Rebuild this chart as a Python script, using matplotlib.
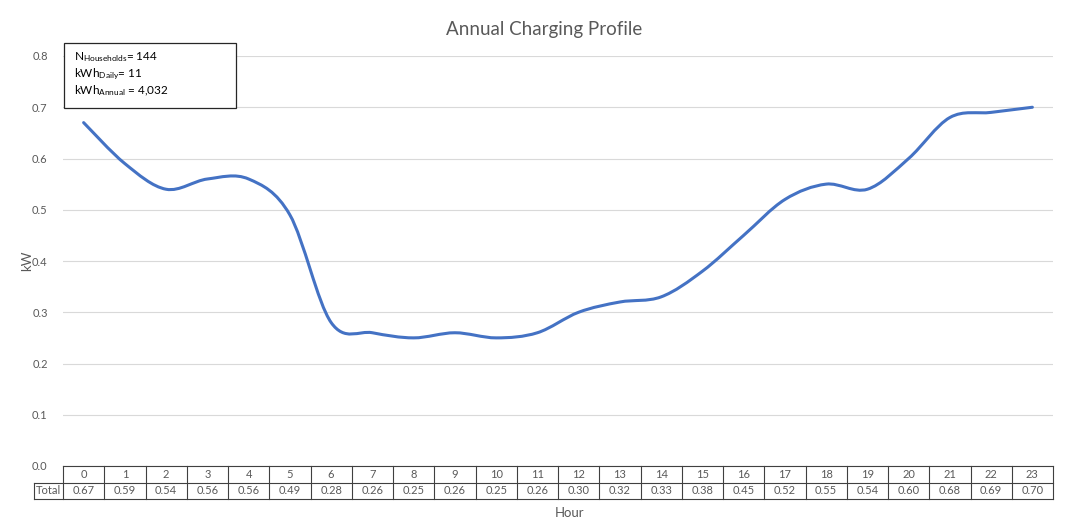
import matplotlib
matplotlib.use("Agg")
import matplotlib.pyplot as plt
from matplotlib.path import Path
from matplotlib.patches import PathPatch, Rectangle
import numpy as np

plt.rcParams['font.family'] = ['Lato', 'DejaVu Sans']
plt.rcParams['mathtext.fontset'] = 'custom'
plt.rcParams['mathtext.rm'] = 'Lato'
plt.rcParams['mathtext.it'] = 'Lato:italic'

hours = list(range(24))
kw = [0.67, 0.59, 0.54, 0.56, 0.56, 0.49, 0.28, 0.26, 0.25, 0.26, 0.25, 0.26,
      0.30, 0.32, 0.33, 0.38, 0.45, 0.52, 0.55, 0.54, 0.60, 0.68, 0.69, 0.70]
yticks = [0.0, 0.1, 0.2, 0.3, 0.4, 0.5, 0.6, 0.7, 0.8]
box_lines = [r"N$_{\mathrm{Households}}$= 144",
             r"kWh$_{\mathrm{Daily}}$= 11",
             r"kWh$_{\mathrm{Annual}}$ = 4,032"]

W, H = 1077, 521
gray = '#595959'
blue = '#4472C4'

fig = plt.figure(figsize=(W / 100, H / 100), dpi=100)
L, R, T, B = 63, 1053, 56, 466
ax = fig.add_axes([L / W, 1 - B / H, (R - L) / W, (B - T) / H])

# smoothed line (Excel style bezier through the points)
x = np.array(hours, dtype=float)
y = np.array(kw)
verts = [(x[0], y[0])]
codes = [Path.MOVETO]
n = len(x)
for i in range(n - 1):
    p0 = np.array([x[max(i - 1, 0)], y[max(i - 1, 0)]])
    p1 = np.array([x[i], y[i]])
    p2 = np.array([x[i + 1], y[i + 1]])
    p3 = np.array([x[min(i + 2, n - 1)], y[min(i + 2, n - 1)]])
    c1 = p1 + (p2 - p0) / 6
    c2 = p2 - (p3 - p1) / 6
    verts += [tuple(c1), tuple(c2), tuple(p2)]
    codes += [Path.CURVE4] * 3
ax.add_patch(PathPatch(Path(verts, codes), fill=False, edgecolor=blue, lw=2.2,
                       capstyle='round', joinstyle='round', zorder=3))

ax.set_xlim(-0.5, 23.5)
ax.set_ylim(0, 0.8)
ax.set_yticks(yticks)
ax.set_yticklabels([f"{v:.1f}" for v in yticks], color=gray, fontsize=8)
ax.set_xticks([])
ax.tick_params(axis='y', length=0, pad=11)
ax.grid(axis='y', color='#d9d9d9', lw=0.8)
ax.set_axisbelow(True)
for s in ax.spines.values():
    s.set_visible(False)
ax.set_ylabel('kW', color=gray, fontsize=9.5)
ax.yaxis.set_label_coords((33 - L) / (R - L), 0.5)

fig.text(544 / W, 1 - 29 / H, 'Annual Charging Profile', ha='center', va='center',
         fontsize=13.5, color=gray)
fig.text(569 / W, 1 - 513 / H, 'Hour', ha='center', va='center', fontsize=9.5, color=gray)

# data table under the axis
TL = 34
tax = fig.add_axes([TL / W, 1 - 499 / H, (R - TL) / W, 33 / H])
unit = (R - L) / 24
x0 = -0.5 - (L - TL) / unit
tax.set_xlim(x0, 23.5)
tax.set_ylim(0, 2)
tax.axis('off')
lc = '#404040'
tax.plot([-0.5, 23.5], [2, 2], color=lc, lw=0.8, clip_on=False)
tax.plot([x0, 23.5], [1, 1], color=lc, lw=0.8, clip_on=False)
tax.plot([x0, 23.5], [0, 0], color=lc, lw=0.8, clip_on=False)
tax.plot([x0, x0], [0, 1], color=lc, lw=0.8, clip_on=False)
for k in range(25):
    tax.plot([k - 0.5, k - 0.5], [0, 2], color=lc, lw=0.8, clip_on=False)
for h, v in zip(hours, kw):
    tax.text(h, 1.5, str(h), ha='center', va='center', fontsize=8, color=gray)
    tax.text(h, 0.5, f"{v:.2f}", ha='center', va='center', fontsize=8, color=gray)
tax.text((x0 - 0.5) / 2, 0.5, 'Total', ha='center', va='center', fontsize=8, color=gray)

# info box
fig.add_artist(Rectangle((64 / W, 1 - 108 / H), 172 / W, 65 / H, transform=fig.transFigure,
                         fill=True, facecolor='white', edgecolor='#262626', lw=0.9))
for k, s in enumerate(box_lines):
    fig.text(74 / W, 1 - (57 + 17 * k) / H, s, ha='left', va='center', fontsize=8.5,
             color='black')

fig.savefig('out.png', dpi=100)
